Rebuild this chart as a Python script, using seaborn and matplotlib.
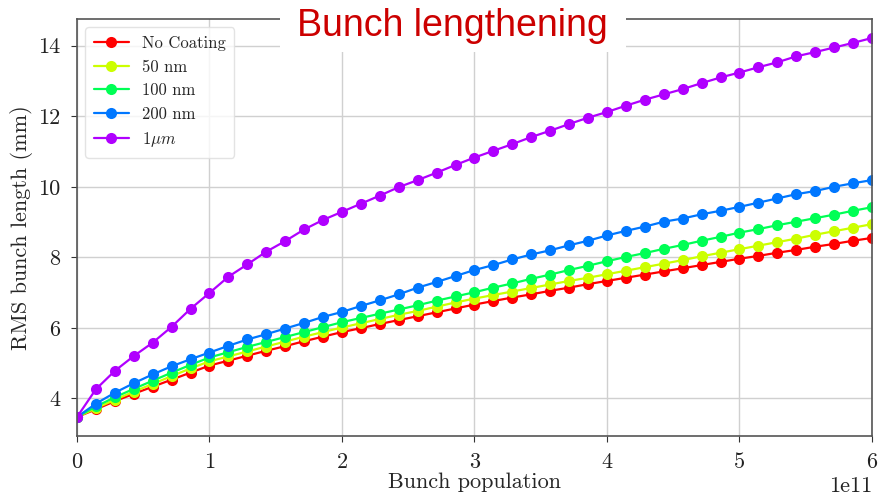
import matplotlib
matplotlib.use('Agg')
import matplotlib.pyplot as plt
from matplotlib.patches import Rectangle
import seaborn as sns
import pandas as pd
import numpy as np

# bunch population (43 points from 0 to 6e11)
population = np.linspace(0, 6e11, 43)

labels = ['No Coating', '50 nm', '100 nm', '200 nm', r'$1\mu m$']
colors = ['#ff0000', '#ccff00', '#00ff55', '#0077ff', '#b000ff']

no_coating = [3.47, 3.69, 3.92, 4.13, 4.33, 4.53, 4.73, 4.93,
              5.07, 5.21, 5.35, 5.48, 5.62, 5.75, 5.88,
              5.99, 6.11, 6.22, 6.33, 6.44, 6.55, 6.66,
              6.76, 6.86, 6.95, 7.05, 7.14, 7.24, 7.33,
              7.42, 7.51, 7.60, 7.69, 7.78, 7.87, 7.96,
              8.04, 8.13, 8.21, 8.30, 8.38, 8.47, 8.55]
nm50 = [3.47, 3.72, 3.96, 4.19, 4.41, 4.63, 4.85, 5.05,
        5.19, 5.33, 5.47, 5.61, 5.75, 5.88, 6.01,
        6.13, 6.25, 6.37, 6.48, 6.60, 6.72, 6.83,
        6.93, 7.03, 7.13, 7.23, 7.33, 7.42, 7.52,
        7.62, 7.72, 7.82, 7.92, 8.03, 8.13, 8.23,
        8.33, 8.43, 8.53, 8.64, 8.74, 8.84, 8.94]
nm100 = [3.47, 3.77, 4.03, 4.27, 4.50, 4.73, 4.95, 5.16,
         5.31, 5.46, 5.60, 5.74, 5.88, 6.02, 6.16,
         6.28, 6.40, 6.52, 6.64, 6.77, 6.89, 7.01,
         7.14, 7.26, 7.39, 7.51, 7.64, 7.76, 7.89,
         8.01, 8.12, 8.24, 8.35, 8.47, 8.58, 8.70,
         8.80, 8.91, 9.01, 9.11, 9.21, 9.32, 9.42]
nm200 = [3.47, 3.85, 4.16, 4.43, 4.68, 4.91, 5.11, 5.30,
         5.49, 5.67, 5.82, 5.98, 6.14, 6.31, 6.45,
         6.62, 6.78, 6.95, 7.14, 7.30, 7.47, 7.64,
         7.78, 7.94, 8.08, 8.20, 8.34, 8.47, 8.62,
         8.75, 8.87, 9.01, 9.10, 9.22, 9.32, 9.43,
         9.55, 9.67, 9.79, 9.88, 10.00, 10.10, 10.19]
um1 = [3.47, 4.26, 4.78, 5.20, 5.58, 6.03, 6.54, 6.99,
       7.45, 7.80, 8.16, 8.46, 8.79, 9.06, 9.29,
       9.52, 9.75, 9.99, 10.19, 10.40, 10.62, 10.83,
       11.02, 11.21, 11.41, 11.59, 11.78, 11.96, 12.12,
       12.30, 12.47, 12.62, 12.77, 12.94, 13.10, 13.24,
       13.39, 13.53, 13.70, 13.82, 13.95, 14.08, 14.22]

series = [no_coating, nm50, nm100, nm200, um1]

sns.set_style('whitegrid', rc={'axes.edgecolor': '#555555', 'grid.color': '#d0d0d0',
                               'xtick.bottom': True, 'ytick.left': True,
                               'xtick.color': '#333333', 'ytick.color': '#333333'})
plt.rcParams['font.family'] = 'serif'
plt.rcParams['font.serif'] = ['cmr10', 'DejaVu Serif']
plt.rcParams['mathtext.fontset'] = 'cm'
plt.rcParams['axes.formatter.use_mathtext'] = False

fig = plt.figure(figsize=(8.79, 4.98), dpi=100)
ax = fig.add_axes([0.0876, 0.1245, 0.9044, 0.8373])

for vals, lab, c in zip(series, labels, colors):
    df = pd.DataFrame({'population': population, 'length': vals})
    sns.lineplot(data=df, x='population', y='length', ax=ax, color=c, label=lab,
                 marker='o', markersize=8, markeredgecolor=c, markeredgewidth=0,
                 linewidth=1.6)

ax.set_xlim(0, 6e11)
ax.set_xlabel('Bunch population', fontsize=16, labelpad=0)
ax.set_ylabel('RMS bunch length (mm)', fontsize=16, labelpad=4)
ax.tick_params(labelsize=16, length=4, pad=8, colors='#333333', labelcolor='#222222')
ax.xaxis.get_offset_text().set_fontsize(16)
ax.grid(True, linewidth=1)
for s in ax.spines.values():
    s.set_linewidth(1.2)

leg = ax.legend(loc='upper left', fontsize=12, frameon=True, handlelength=2.1,
                borderpad=0.5, labelspacing=0.5)
leg.get_frame().set_edgecolor('#dddddd')

# title box over the top of the axes
fig.patches.append(Rectangle((280 / 879, 1 - 52 / 498), 346 / 879, 52 / 498,
                             transform=fig.transFigure, facecolor='white',
                             edgecolor='none', zorder=10))
fig.text(452 / 879, 1 - 26 / 498, 'Bunch lengthening', color='#cc0000',
         fontsize=27, family='Liberation Sans', ha='center', va='center', zorder=11)

fig.savefig('out.png', dpi=100)
